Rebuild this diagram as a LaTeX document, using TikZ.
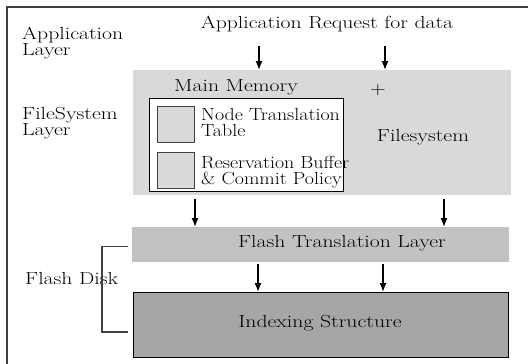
\documentclass[tikz,border=0pt]{standalone}
\usepackage{fontspec}
\setmainfont{Latin Modern Roman}[FakeStretch=1.24]
\newfontfamily\plainlm{Latin Modern Roman}[FakeStretch=1.14]
\usetikzlibrary{arrows.meta}
\definecolor{fsgray}{gray}{0.85}
\definecolor{ftlgray}{gray}{0.76}
\definecolor{idxgray}{gray}{0.65}
\definecolor{framegray}{gray}{0.25}
\begin{document}
\begin{tikzpicture}[x=1pt,y=-1pt,
    every node/.style={font=\fontsize{17.5}{16}\selectfont},
    lbl/.style={align=left,anchor=north west,inner sep=0pt},
    inlbl/.style={lbl,font=\plainlm\fontsize{17.5}{16}\selectfont},
    block/.style={inner sep=0pt,anchor=north west},
    arr/.style={-{Latex[length=9pt,width=7pt]},line width=1.3pt}]
    \useasboundingbox (0,0) rectangle (528,364);
    \draw[framegray, line width=1.5pt] (7,364) -- (7,7) -- (528,7);
    % layer names
    \node[lbl] (applayer) at (22,27) {Application\\Layer};
    \node[lbl] (fslayer) at (22,107) {FileSystem\\Layer};
    \node[anchor=west, inner sep=0pt] (disk) at (25,278) {Flash Disk};
    % boxes
    \node[block, fill=fsgray, minimum width=378pt, minimum height=125pt] (fs) at (133,70) {};
    \node[block, fill=white, draw=black, line width=1pt, minimum width=194pt, minimum height=93pt] (mem) at (149,98) {};
    \node[block, fill=fsgray, draw=framegray, line width=1pt, minimum width=37pt, minimum height=36pt] (ntt) at (157,106) {};
    \node[block, fill=fsgray, draw=framegray, line width=1pt, minimum width=37pt, minimum height=36pt] (rb) at (157,152) {};
    \node[block, fill=ftlgray, minimum width=377pt, minimum height=35pt] (ftl) at (132,227) {};
    \node[block, fill=idxgray, draw=black, line width=1pt, minimum width=375pt, minimum height=65pt] (idx) at (133,292) {};
    % texts
    \node (req) at (327,24) {Application Request for data};
    \node (mmtext) at (236,87) {Main Memory};
    \node (plus) at (378,90) {+};
    \node[inlbl] (ntttext) at (201,108) {Node Translation\\Table};
    \node[inlbl] (rbtext) at (201,156) {Reservation Buffer\\\& Commit Policy};
    \node (fstext) at (423,137) {Filesystem};
    \node (ftltext) at (342,243) {Flash Translation Layer};
    \node (idxtext) at (320,323) {Indexing Structure};
    % arrows
    \coordinate (in1) at (259,46);
    \coordinate (in2) at (385,46);
    \coordinate (m1) at (195,199);
    \coordinate (m2) at (444,199);
    \coordinate (b1) at (258,264);
    \coordinate (b2) at (383,264);
    \foreach \c in {in1,in2} \draw[arr] (\c) -- (\c |- fs.north);
    \foreach \c in {m1,m2} \draw[arr] (\c) -- (\c |- ftl.north);
    \foreach \c in {b1,b2} \draw[arr] (\c) -- (\c |- idx.north);
    \draw[framegray, line width=1.2pt] ([xshift=-4pt,yshift=-2pt]ftl.west) -- ++(-26,0) |- ([xshift=-5pt,yshift=-7pt]idx.west);
\end{tikzpicture}
\end{document}
